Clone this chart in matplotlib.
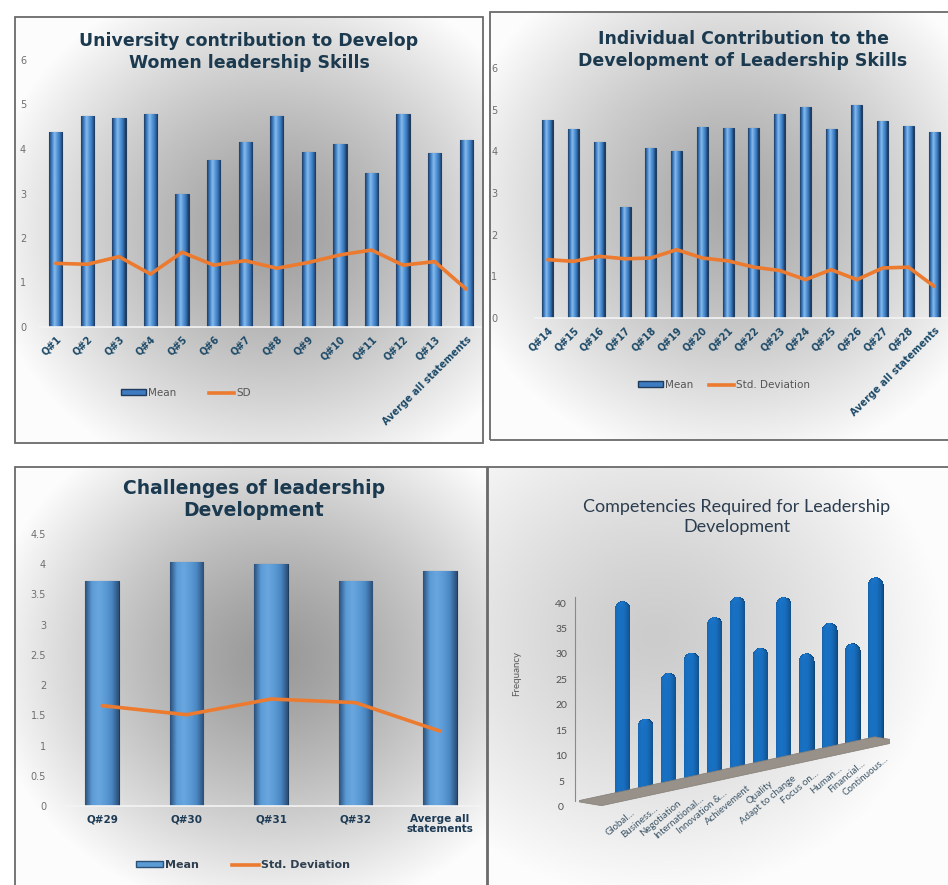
import numpy as np
import matplotlib
matplotlib.use("Agg")
import matplotlib.pyplot as plt
from matplotlib.colors import LinearSegmentedColormap, LightSource
from matplotlib.patches import Rectangle, Patch
from matplotlib.lines import Line2D
from mpl_toolkits.mplot3d.art3d import Poly3DCollection

# --- data -------------------------------------------------------------
uni_labels = ["Q#1", "Q#2", "Q#3", "Q#4", "Q#5", "Q#6", "Q#7", "Q#8", "Q#9",
              "Q#10", "Q#11", "Q#12", "Q#13", "Averge all statements"]
uni_mean = [4.39, 4.75, 4.70, 4.79, 2.99, 3.75, 4.16, 4.75, 3.94, 4.11, 3.45, 4.79, 3.92, 4.20]
uni_sd = [1.43, 1.41, 1.58, 1.19, 1.68, 1.39, 1.49, 1.32, 1.45, 1.62, 1.73, 1.39, 1.47, 0.85]

ind_labels = ["Q#14", "Q#15", "Q#16", "Q#17", "Q#18", "Q#19", "Q#20", "Q#21", "Q#22",
              "Q#23", "Q#24", "Q#25", "Q#26", "Q#27", "Q#28", "Averge all statements"]
ind_mean = [4.76, 4.53, 4.22, 2.66, 4.08, 4.01, 4.58, 4.56, 4.56, 4.89, 5.06, 4.53, 5.12, 4.73, 4.60, 4.46]
ind_sd = [1.40, 1.36, 1.48, 1.42, 1.44, 1.64, 1.44, 1.37, 1.22, 1.14, 0.92, 1.16, 0.92, 1.20, 1.22, 0.76]

chl_labels = ["Q#29", "Q#30", "Q#31", "Q#32", "Averge all\nstatements"]
chl_mean = [3.73, 4.03, 4.01, 3.73, 3.88]
chl_sd = [1.66, 1.51, 1.77, 1.71, 1.24]

comp_labels = ["Global…", "Business…", "Negotiation", "International…", "Innovation &…",
               "Achievement", "Quality", "Adapt to change", "Focus on…", "Human…",
               "Financial…", "Continuous…"]
comp_freq = [38, 14, 22, 25, 31, 34, 23, 32, 20, 25, 20, 32]

W, H = 948, 885
fig = plt.figure(figsize=(W / 100, H / 100), dpi=100)
fig.patch.set_facecolor("white")


def fig_rect(x0, y0, x1, y1):
    return [x0 / W, 1 - y1 / H, (x1 - x0) / W, (y1 - y0) / H]


def fig_pt(x, y):
    return (x / W, 1 - y / H)


TITLE = "#1b3a4f"
TICK = "#6f6f6f"
ORANGE = "#ec7b30"

# vignette background for every panel
def panel_bg(rect, cx, cy, dark):
    bg = fig.add_axes(fig_rect(*rect), zorder=0)
    xs = np.linspace(0, 1, 200)
    ys = np.linspace(0, 1, 200)
    gx, gy = np.meshgrid(xs, ys)
    r = np.sqrt(((gx - cx) / 0.62) ** 2 + ((gy - cy) / 0.62) ** 2)
    v = np.clip(r, 0, 1) ** 1.3
    g = dark + (0.99 - dark) * v
    bg.imshow(np.dstack([g, g, g]), extent=[0, 1, 0, 1], aspect="auto", origin="upper")
    bg.set_axis_off()
    fig.patches.append(Rectangle((rect[0] / W, 1 - rect[3] / H),
                                 (rect[2] - rect[0]) / W, (rect[3] - rect[1]) / H,
                                 transform=fig.transFigure, fill=False,
                                 edgecolor="#6a6a6a", linewidth=1.3, zorder=5))


panel_bg((15, 17, 483, 443), 0.55, 0.50, 0.62)
panel_bg((490, 12, 952, 440), 0.52, 0.45, 0.66)
panel_bg((15, 467, 487, 890), 0.55, 0.45, 0.60)
panel_bg((488, 467, 952, 890), 0.36, 0.40, 0.80)

cyl_cmap = LinearSegmentedColormap.from_list(
    "cyl", ["#1d3c63", "#3f7fc6", "#86bbea", "#5596da", "#3572b5", "#1b3658"])
flat_cmap = LinearSegmentedColormap.from_list(
    "flat", ["#2c527e", "#5b9bd5", "#69a6df", "#5b9bd5", "#4a86c2", "#2c4f78"])


def shaded_bars(ax, x, vals, width, cmap, edge):
    bars = ax.bar(x, vals, width=width, color="#4a88cc", edgecolor=edge,
                  linewidth=0.8, zorder=2)
    grad = np.linspace(0, 1, 64).reshape(1, -1)
    for b in bars:
        im = ax.imshow(grad, cmap=cmap, aspect="auto", zorder=2.5,
                       extent=[b.get_x(), b.get_x() + b.get_width(), 0, b.get_height()])
        im.set_clip_path(b)
    return bars


def bar_line_panel(rect, labels, mean, sd, ymax, yticks, ytl, pad, cmap, width,
                   rot, lab_size):
    ax = fig.add_axes(fig_rect(*rect), zorder=2)
    ax.patch.set_alpha(0)
    x = np.arange(len(labels))
    shaded_bars(ax, x, mean, width, cmap, "#203c5c")
    ax.plot(x, sd, color=ORANGE, linewidth=2.6, zorder=4, solid_capstyle="round")
    ax.set_xlim(-0.5, len(labels) - 0.5)
    ax.set_ylim(0, ymax)
    ax.set_yticks(yticks)
    ax.set_yticklabels(ytl, fontsize=7, color=TICK)
    ax.tick_params(axis="y", length=0, pad=pad)
    ax.set_xticks(x)
    if rot:
        ax.set_xticklabels(labels, rotation=45, ha="right", rotation_mode="anchor",
                           fontsize=lab_size, fontweight="bold", color="#1d4a68")
        ax.tick_params(axis="x", length=0, pad=5)
    else:
        ax.set_xticklabels(labels, fontsize=lab_size, fontweight="bold", color="#1d3b55",
                           linespacing=1.0)
        ax.tick_params(axis="x", length=0, pad=6)
    for s in ["left", "right", "top"]:
        ax.spines[s].set_visible(False)
    ax.spines["bottom"].set_color("#f4f4f4")
    ax.spines["bottom"].set_linewidth(1.2)
    return ax


# University contribution
bar_line_panel((40, 60, 482, 327), uni_labels, uni_mean, uni_sd, 6, range(7),
               [str(v) for v in range(7)], 10, cyl_cmap, 0.42, True, 7)
fig.text(*fig_pt(249, 52), "University contribution to Develop\nWomen leadership Skills",
         ha="center", va="center", fontsize=12.5, fontweight="bold", color=TITLE,
         linespacing=1.25)
fig.legend(handles=[Patch(facecolor="#3f7bc0", edgecolor="#203c5c", label="Mean"),
                    Line2D([], [], color=ORANGE, linewidth=2.6, label="SD")],
           loc="center", bbox_to_anchor=fig_pt(186, 393), ncol=2, frameon=False,
           fontsize=7.5, labelcolor="#555555", handlelength=2.4, handleheight=0.45,
           handletextpad=0.2, columnspacing=3.2)

# Individual contribution
bar_line_panel((535, 68, 947, 318), ind_labels, ind_mean, ind_sd, 6, range(7),
               [str(v) for v in range(7)], 27, cyl_cmap, 0.42, True, 7)
fig.text(*fig_pt(743, 50), "Individual Contribution to the\nDevelopment of Leadership Skills",
         ha="center", va="center", fontsize=12.5, fontweight="bold", color=TITLE,
         linespacing=1.25)
fig.legend(handles=[Patch(facecolor="#3f7bc0", edgecolor="#203c5c", label="Mean"),
                    Line2D([], [], color=ORANGE, linewidth=2.6, label="Std. Deviation")],
           loc="center", bbox_to_anchor=fig_pt(724, 385), ncol=2, frameon=False,
           fontsize=7.5, labelcolor="#555555", handlelength=2.4, handleheight=0.45,
           handletextpad=0.2, columnspacing=1.5)

# Challenges
chl_ticks = np.arange(0, 4.51, 0.5)
bar_line_panel((60, 534, 482, 806), chl_labels, chl_mean, chl_sd, 4.5, chl_ticks,
               ["0", "0.5", "1", "1.5", "2", "2.5", "3", "3.5", "4", "4.5"], 10,
               flat_cmap, 0.40, False, 7.5)
fig.text(*fig_pt(254, 500), "Challenges of leadership\nDevelopment",
         ha="center", va="center", fontsize=13.5, fontweight="bold", color=TITLE,
         linespacing=1.2)
fig.legend(handles=[Patch(facecolor="#5b9bd5", edgecolor="#2c4f78", label="Mean"),
                    Line2D([], [], color=ORANGE, linewidth=2.6, label="Std. Deviation")],
           loc="center", bbox_to_anchor=fig_pt(243, 865), ncol=2, frameon=False,
           prop={"size": 8, "weight": "bold"}, labelcolor="#2f3f4f", handlelength=2.4,
           handleheight=0.45, handletextpad=0.2, columnspacing=3.0)

# Competencies (3D cylinders on a thin floor)
ax4 = fig.add_axes(fig_rect(526, 518, 941, 828), projection="3d", zorder=2)
ax4.set_facecolor((0, 0, 0, 0))
ax4.set_proj_type("ortho")
ax4.view_init(elev=11, azim=-138.5)
n = len(comp_labels)
x_lo = -1.0
ax4.set_box_aspect((n - x_lo, 1, 5.98), zoom=1.56)
ax4.set_xlim(x_lo, n)
ax4.set_ylim(0, 1)
ax4.set_zlim(0, 40)

floor = [(x_lo, 0, 0), (n, 0, 0), (n, 1, 0), (x_lo, 1, 0)]
ax4.add_collection3d(Poly3DCollection([floor], facecolor="#97918a", edgecolor="#837d76",
                                      linewidth=0.5))

ls = LightSource(azdeg=250, altdeg=35)
rad, cap = 0.21, 1.4
theta = np.linspace(0, 2 * np.pi, 36)
for i, h in enumerate(comp_freq):
    phi = np.linspace(np.pi / 2, 0, 8)
    rho = np.concatenate([[rad, rad], rad * np.sin(phi)])
    zz = np.concatenate([[0, h - cap], h - cap + cap * np.cos(phi)])
    T, R = np.meshgrid(theta, rho)
    _, Z = np.meshgrid(theta, zz)
    X = i + 0.5 + R * np.cos(T)
    Y = 0.5 + R * np.sin(T)
    ax4.plot_surface(X, Y, Z, color="#1a78d0", shade=True, lightsource=ls,
                     linewidth=0, antialiased=False)

for a in (ax4.xaxis, ax4.yaxis, ax4.zaxis):
    a.set_pane_color((1, 1, 1, 0))
    a.pane.set_edgecolor((1, 1, 1, 0))
    a._axinfo["tick"]["inward_factor"] = 0
    a._axinfo["tick"]["outward_factor"] = 0
ax4.grid(False)
ax4.xaxis.line.set_color((0, 0, 0, 0))
ax4.yaxis.line.set_color((0, 0, 0, 0))
ax4.zaxis.line.set_color("#8a8a8a")
ax4.set_yticks([])
ax4.set_xticks(np.arange(n) + 0.5)
ax4.set_xticklabels(comp_labels, rotation=40, ha="right", va="top", fontsize=7,
                    color="#3d5566", family="Lato")
ax4.set_zticks(range(0, 41, 5))
ax4.set_zticklabels([str(v) for v in range(0, 41, 5)], fontsize=7.5, color="#505050",
                    family="Lato")
ax4.tick_params(axis="x", pad=-2)
ax4.tick_params(axis="z", pad=-3)

fig.text(*fig_pt(737, 517), "Competencies Required for Leadership\nDevelopment",
         ha="center", va="center", fontsize=13, color="#2b3d4f", family="Lato",
         linespacing=1.35)
fig.text(*fig_pt(517, 673), "Frequancy", rotation=90, ha="center", va="center",
         fontsize=7, color="#5a5a5a", family="Lato")

fig.savefig("out.png", dpi=100)
